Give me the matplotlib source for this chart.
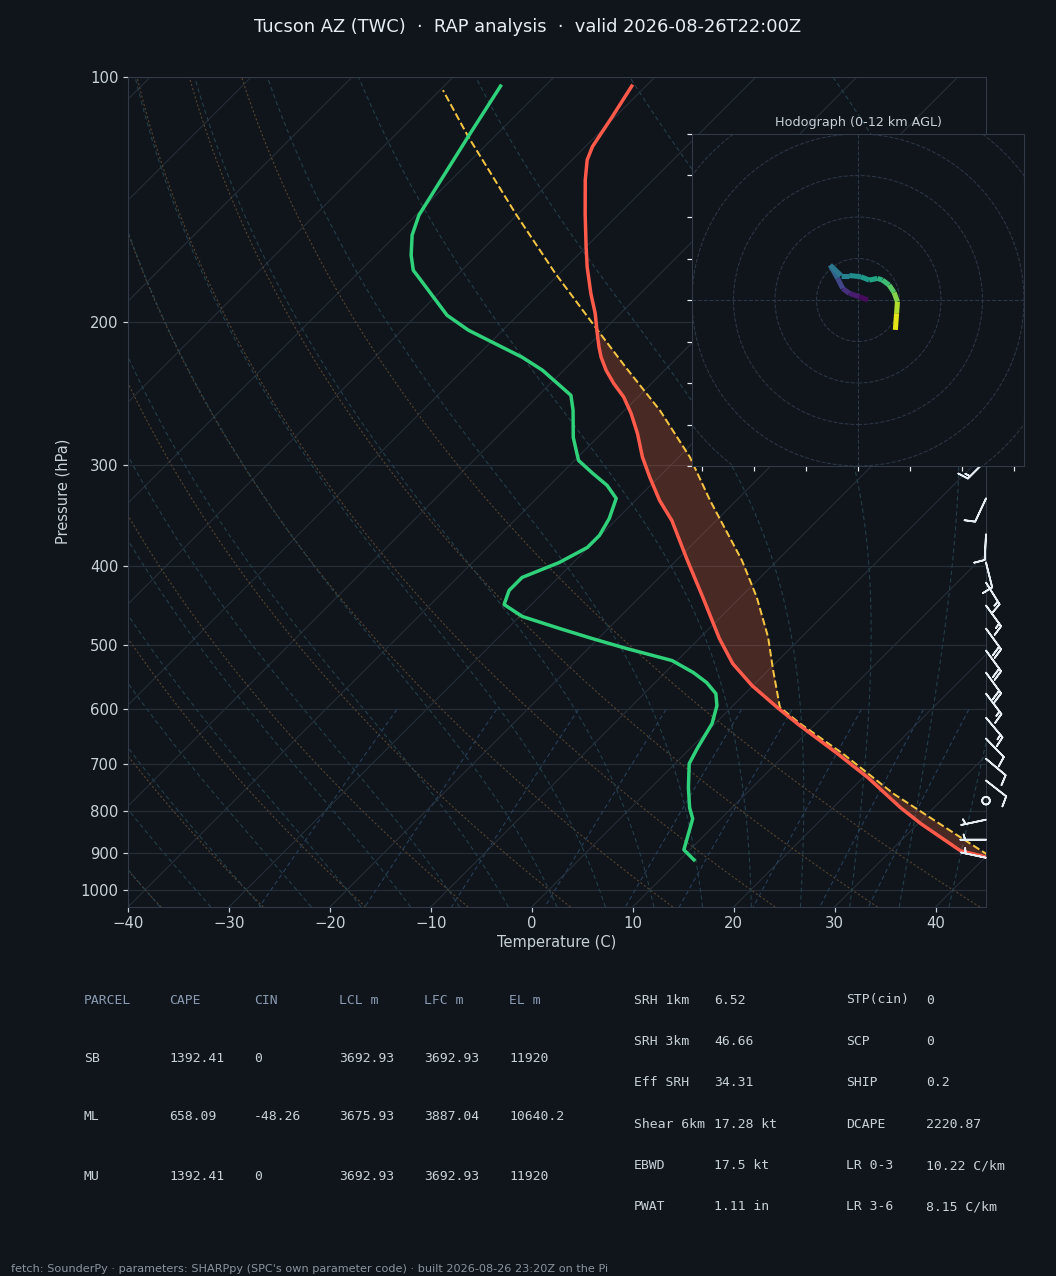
import numpy as np
import matplotlib
matplotlib.use('Agg')
import matplotlib.pyplot as plt
from matplotlib.collections import LineCollection
from matplotlib.colors import Normalize
from matplotlib.patches import Circle
from matplotlib.ticker import FixedLocator, NullLocator, FuncFormatter

# ---- sounding ----
temp_p = [918.7, 895.4, 829.3, 792.5, 727.9, 680.0, 628.1, 598.5, 560.8, 526.9, 490.8,
          436.9, 393.4, 351.3, 331.9, 310.6, 293.5, 274.7, 259.6, 247.6, 238.4, 229.5,
          221.1, 214.9, 206.9, 195.4, 184.7, 171.3, 161.8, 147.2, 133.9, 126.5, 121.8,
          111.9, 102.6]
temp_c = [41.5, 36.9, 30.3, 26.7, 20.5, 15.1, 8.6, 4.8, -0.1, -4.2, -8.0,
          -13.7, -18.9, -24.4, -27.6, -30.9, -33.6, -36.4, -39.0, -41.4, -43.7, -45.8,
          -47.6, -48.8, -50.3, -52.5, -54.9, -57.9, -60.0, -63.4, -66.7, -68.5, -69.3,
          -70.3, -71.4]

dwpt_p = [918.7, 892.8, 817.7, 792.5, 748.8, 699.6, 670.5, 624.6, 593.5, 573.6, 556.0,
          540.5, 522.4, 504.9, 490.8, 477.1, 461.1, 445.7, 428.2, 412.8, 395.7, 379.2,
          366.4, 349.3, 330.0, 318.0, 307.4, 296.3, 277.6, 257.1, 246.4, 229.5, 221.2,
          204.9, 196.4, 176.3, 172.9, 165.7, 156.5, 147.9, 118.4, 102.6]
dwpt_c = [11.4, 9.4, 7.2, 5.8, 3.7, 1.4, 0.7, -0.3, -1.6, -2.9, -4.9,
          -7.2, -10.5, -16.2, -20.6, -24.8, -29.7, -32.7, -33.6, -33.6, -31.4, -30.1,
          -30.1, -30.8, -32.1, -34.3, -36.9, -39.6, -42.4, -45.1, -46.8, -52.1, -55.4,
          -63.4, -67.0, -73.6, -74.8, -76.5, -78.4, -79.7, -82.6, -84.4]

parcel_p = [918.7, 903.6, 862.2, 762.5, 680.6, 625.1, 596.3, 537.4, 489.0, 436.5,
            393.4, 331.9, 293.5, 257.1, 227.4, 203.9, 174.5, 147.2, 118.4, 103.8]
parcel_c = [41.5, 39.8, 35.6, 24.7, 15.7, 8.5, 4.8, 0.5, -3.3, -8.4,
            -13.5, -22.6, -28.9, -36.5, -44.2, -50.9, -60.4, -70.3, -82.6, -89.7]

barb_p = [296.3, 330.0, 365.4, 395.7, 418.8, 446.9, 477.1, 507.7, 540.5, 573.6,
          614.1, 651.6, 689.9, 733.9, 776.9, 819.9, 867.7, 913.3]
barb_dir = [225, 205, 183, 166, 148, 144, 144, 144, 144, 143,
            140, 136, 130, 128, 0, 258, 270, 282]
barb_kt = [15, 10, 10, 10, 15, 15, 20, 20, 20, 15,
           15, 10, 10, 10, 0, 5, 5, 5]

hodo_u = [2.4, 0.3, -2.1, -3.7, -4.9, -6.7, -4.1, -2.1, 0.7, 2.7, 4.7, 5.9, 7.5, 8.7, 9.5, 9.3, 9.0]
hodo_v = [0.0, 0.8, 1.6, 2.8, 5.2, 8.4, 5.9, 5.9, 5.6, 4.8, 5.2, 4.8, 3.6, 1.8, -0.4, -3.2, -7.2]
hodo_z = [0, 0.6, 1.3, 2.0, 3.0, 4.5, 5.0, 5.5, 6.2, 6.8, 7.4, 7.9, 8.6, 9.3, 10.2, 11.0, 12.0]

p_ticks = [100, 200, 300, 400, 500, 600, 700, 800, 900, 1000]
t_ticks = [-40, -30, -20, -10, 0, 10, 20, 30, 40]

title = 'Tucson AZ (TWC)  \u00b7  RAP analysis  \u00b7  valid 2026-08-26T22:00Z'
footer = ("fetch: SounderPy \u00b7 parameters: SHARPpy (SPC's own parameter code) "
          "\u00b7 built 2026-08-26 23:20Z on the Pi")

parcel_cols = ['PARCEL', 'CAPE', 'CIN', 'LCL m', 'LFC m', 'EL m']
parcel_rows = [['SB', '1392.41', '0', '3692.93', '3692.93', '11920'],
               ['ML', '658.09', '-48.26', '3675.93', '3887.04', '10640.2'],
               ['MU', '1392.41', '0', '3692.93', '3692.93', '11920']]
params_left = [('SRH 1km', '6.52'), ('SRH 3km', '46.66'), ('Eff SRH', '34.31'),
               ('Shear 6km', '17.28 kt'), ('EBWD', '17.5 kt'), ('PWAT', '1.11 in')]
params_right = [('STP(cin)', '0'), ('SCP', '0'), ('SHIP', '0.2'),
                ('DCAPE', '2220.87'), ('LR 0-3', '10.22 C/km'), ('LR 3-6', '8.15 C/km')]

# ---- style ----
BG = '#10151c'
TXT = '#c9d1d9'
SPINE = '#313a46'
GRID = '#262e38'
DRY = '#57452f'
MOIST = '#24404a'
MIX = '#284059'

SKEW = 80.5
P_BOT, P_TOP = 1050.0, 100.0
W, H = 1056, 1276


def skx(t, p):
    return np.asarray(t, float) + SKEW * np.log10(P_BOT / np.asarray(p, float))


RD, CP, LV, EPS = 287.04749, 1004.6662, 2.50084e6, 0.622


def moist_dtdp(p, tk):
    es = 6.112 * np.exp(17.67 * (tk - 273.15) / (tk - 29.65))
    rs = EPS * es / (p - es)
    return (RD * tk + LV * rs) / (CP + LV * LV * rs * EPS / (RD * tk * tk)) / p


def moist_lines(t0s):
    p_up = np.geomspace(1000, 100, 150)
    p_dn = np.geomspace(1000, 1050, 6)
    out = []
    for path in (p_dn, p_up):
        t = np.array(t0s, float) + 273.15
        rows = [t.copy()]
        for p1, p2 in zip(path[:-1], path[1:]):
            h = p2 - p1
            k1 = moist_dtdp(p1, t)
            k2 = moist_dtdp(p1 + h / 2, t + h / 2 * k1)
            k3 = moist_dtdp(p1 + h / 2, t + h / 2 * k2)
            k4 = moist_dtdp(p2, t + h * k3)
            t = t + h / 6 * (k1 + 2 * k2 + 2 * k3 + k4)
            rows.append(t.copy())
        out.append(np.array(rows))
    p_all = np.concatenate([p_dn[::-1], p_up[1:]])
    t_all = np.concatenate([out[0][::-1], out[1][1:]]) - 273.15
    return p_all, t_all


fig = plt.figure(figsize=(W / 96, H / 96), dpi=96, facecolor=BG)
ax = fig.add_axes([128 / W, 1 - 907 / H, 858 / W, 830 / H], facecolor=BG)
ax.set_yscale('log')
ax.set_ylim(P_BOT, P_TOP)
ax.set_xlim(-40, 45)

# background lines
pp = np.geomspace(P_BOT, P_TOP, 120)
for t in range(-140, 50, 10):
    ax.plot(skx([t, t], [P_BOT, P_TOP]), [P_BOT, P_TOP], color=GRID, lw=0.8, zorder=1)
for p in p_ticks:
    ax.axhline(p, color=GRID, lw=0.9, zorder=1)

for t0 in np.arange(-40, 46, 10):
    td = (t0 + 273.15) * (pp / 1000.0) ** (RD / CP) - 273.15
    ax.plot(skx(td, pp), pp, color=DRY, lw=0.8, ls=(0, (2, 2)), zorder=1)

mp, mt = moist_lines(np.concatenate([np.arange(-40, 0, 5), np.arange(0, 46, 5)]))
for i in range(mt.shape[1]):
    ax.plot(skx(mt[:, i], mp), mp, color=MOIST, lw=0.8, ls=(0, (4, 3)), zorder=1)

pm = np.linspace(600, P_BOT, 40)
for w in [0.0004, 0.001, 0.002, 0.004, 0.007, 0.01, 0.016, 0.024, 0.032]:
    e = pm * w / (EPS + w)
    lg = np.log(e / 6.112)
    tdw = 243.5 * lg / (17.67 - lg)
    ax.plot(skx(tdw, pm), pm, color=MIX, lw=0.8, ls=(0, (4, 3)), zorder=1)

# CAPE shading
pg = np.geomspace(max(temp_p), min(parcel_p), 500)
lt = np.log(temp_p)[::-1]
env_g = np.interp(np.log(pg), lt, np.array(temp_c)[::-1])
par_g = np.interp(np.log(pg), np.log(parcel_p)[::-1], np.array(parcel_c)[::-1])
ax.fill_betweenx(pg, skx(env_g, pg), skx(par_g, pg), where=par_g > env_g,
                 interpolate=True, color='#ff6a3d', alpha=0.24, lw=0, zorder=2)

ax.plot(skx(parcel_c, parcel_p), parcel_p, color='#f4c542', lw=1.5, ls='--', zorder=4)
ax.plot(skx(temp_c, temp_p), temp_p, color='#ff5a4a', lw=2.6, zorder=5)
ax.plot(skx(dwpt_c, dwpt_p), dwpt_p, color='#2fd27a', lw=2.6, zorder=5)

# wind barbs on the right edge
rad = np.deg2rad(barb_dir)
bu = -np.array(barb_kt) * np.sin(rad)
bv = -np.array(barb_kt) * np.cos(rad)
ax.barbs(np.ones(len(barb_p)), barb_p, bu, bv, transform=ax.get_yaxis_transform(),
         clip_on=False, length=6.2, color='#e6edf3', linewidth=1.3, zorder=6)

ax.yaxis.set_major_locator(FixedLocator(p_ticks))
ax.yaxis.set_minor_locator(NullLocator())
ax.yaxis.set_major_formatter(FuncFormatter(lambda v, _: f'{int(v)}'))
ax.xaxis.set_major_locator(FixedLocator(t_ticks))
ax.tick_params(colors=TXT, labelsize=11.2, width=0.9)
for s in ax.spines.values():
    s.set_color(SPINE)

fig.text(63 / W, 1 - 491 / H, 'Pressure (hPa)', rotation=90, ha='center', va='center',
         color=TXT, fontsize=11)
fig.text(557 / W, 1 - 943 / H, 'Temperature (C)', ha='center', va='center',
         color=TXT, fontsize=11)
fig.text(0.5, 1 - 27 / H, title, ha='center', va='center', color='#e6edf3', fontsize=13.45)

# hodograph inset
hx = fig.add_axes([692 / W, 1 - 466 / H, 332 / W, 332 / H], facecolor=BG)
hx.set_xlim(-40, 40)
hx.set_ylim(-40, 40)
for r in range(10, 60, 10):
    hx.add_patch(Circle((0, 0), r, fill=False, ls='--', lw=0.8, color='#2c3644'))
hx.axhline(0, ls='--', lw=0.8, color='#2c3644')
hx.axvline(0, ls='--', lw=0.8, color='#2c3644')
pts = np.column_stack([hodo_u, hodo_v])
segs = np.stack([pts[:-1], pts[1:]], axis=1)
lc = LineCollection(segs, cmap='viridis', norm=Normalize(0, 12), linewidths=3.8,
                    capstyle='butt', zorder=3)
lc.set_array((np.array(hodo_z[:-1]) + np.array(hodo_z[1:])) / 2)
hx.add_collection(lc)
hx.set_xticks(np.arange(-37.5, 40, 12.5))
hx.set_yticks(np.arange(-40, 41, 10))
hx.tick_params(colors='#e6edf3', length=3.5, width=0.9, labelleft=False, labelbottom=False)
for s in hx.spines.values():
    s.set_color(SPINE)
hx.set_title('Hodograph (0-12 km AGL)', color=TXT, fontsize=9.6)

# parameter tables
mono = 'DejaVu Sans Mono'
col_x = [84, 169, 254, 339, 424, 509]
row_y = [1000, 1058, 1117, 1176]
for cx, name in zip(col_x, parcel_cols):
    fig.text(cx / W, 1 - row_y[0] / H, name, family=mono, fontsize=9.8, color='#8a9ab0',
             va='center')
for ry, row in zip(row_y[1:], parcel_rows):
    for cx, val in zip(col_x, row):
        fig.text(cx / W, 1 - ry / H, val, family=mono, fontsize=9.8, color=TXT, va='center')

for i, ((l1, v1), (l2, v2)) in enumerate(zip(params_left, params_right)):
    y = 1 - (1000 + 41.4 * i) / H
    fig.text(634 / W, y, l1, family=mono, fontsize=9.8, color=TXT, va='center')
    fig.text(714 / W, y, v1, family=mono, fontsize=9.8, color=TXT, va='center')
    fig.text(846 / W, y, l2, family=mono, fontsize=9.8, color=TXT, va='center')
    fig.text(926 / W, y, v2, family=mono, fontsize=9.8, color=TXT, va='center')

fig.text(11 / W, 1 - 1269 / H, footer, fontsize=8.45, color='#8b949e', va='center')

fig.savefig('out.png', dpi=96, facecolor=BG)
